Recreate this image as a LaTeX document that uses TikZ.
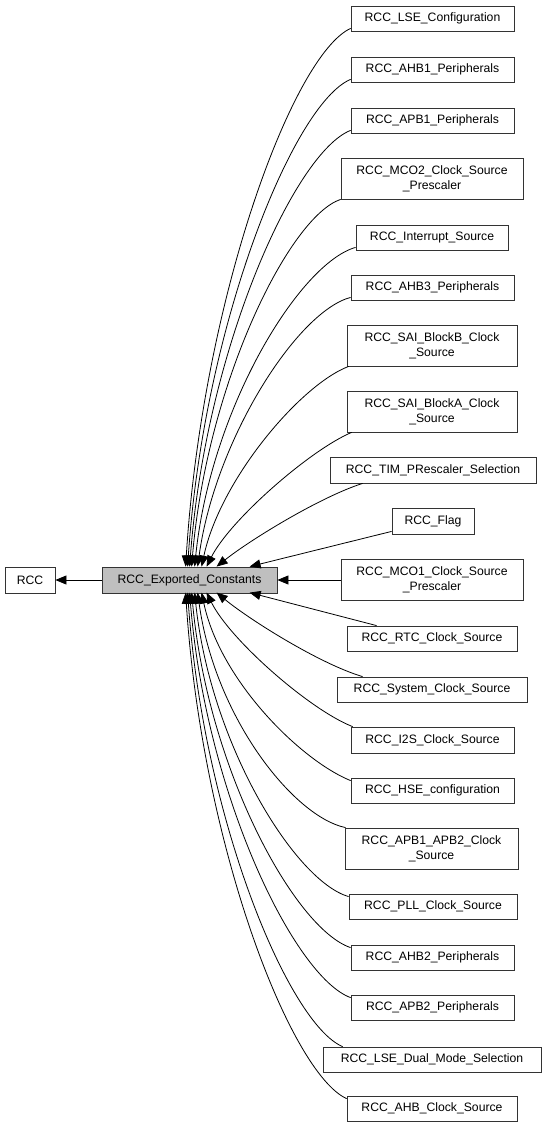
\documentclass[tikz,border=0pt]{standalone}
\usepackage{fontspec}
\setmainfont{Liberation Sans}
\usetikzlibrary{arrows.meta,calc}
\begin{document}
\begin{tikzpicture}[x=1pt,y=-1pt,
  box/.style={draw=black!80, line width=0.8pt, inner sep=0pt, align=center,
    font=\fontsize{12.2}{15}\selectfont, minimum height=25pt},
  tall/.style={minimum height=41pt},
  arr/.style={line width=0.8pt, draw=black, -{Triangle[length=11pt,width=9pt]}}]
\useasboundingbox (0,0) rectangle (545,1129);
% left nodes
\node[box, minimum width=50pt, minimum height=26pt] (rcc) at (30,580) {RCC};
\node[box, minimum width=175pt, minimum height=26pt, fill=black!25] (ec) at (189.5,580) {RCC\_Exported\_Constants};
% right nodes
\node[box, minimum width=163pt] (lse) at (432.5,18.5) {RCC\_LSE\_Configuration};
\node[box, minimum width=163pt] (ahb1) at (432.5,69.5) {RCC\_AHB1\_Peripherals};
\node[box, minimum width=163pt] (apb1) at (432.5,120.5) {RCC\_APB1\_Peripherals};
\node[box, tall, minimum width=182pt] (mco2) at (432,178.5) {RCC\_MCO2\_Clock\_Source\\\_Prescaler};
\node[box, minimum width=152pt] (int) at (432,237.5) {RCC\_Interrupt\_Source};
\node[box, minimum width=163pt] (ahb3) at (432.5,287.5) {RCC\_AHB3\_Peripherals};
\node[box, tall, minimum width=170pt] (saib) at (432,345.5) {RCC\_SAI\_BlockB\_Clock\\\_Source};
\node[box, tall, minimum width=170pt] (saia) at (432,411.5) {RCC\_SAI\_BlockA\_Clock\\\_Source};
\node[box, minimum width=206pt, minimum height=26pt] (tim) at (433,470) {RCC\_TIM\_PRescaler\_Selection};
\node[box, minimum width=82pt, minimum height=26pt] (flag) at (433,521) {RCC\_Flag};
\node[box, tall, minimum width=182pt] (mco1) at (432,580) {RCC\_MCO1\_Clock\_Source\\\_Prescaler};
\node[box, minimum width=170pt] (rtc) at (432,638.5) {RCC\_RTC\_Clock\_Source};
\node[box, minimum width=190pt] (sys) at (432,689.5) {RCC\_System\_Clock\_Source};
\node[box, minimum width=163pt, minimum height=26pt] (i2s) at (432.5,740) {RCC\_I2S\_Clock\_Source};
\node[box, minimum width=163pt] (hse) at (432.5,790.5) {RCC\_HSE\_configuration};
\node[box, tall, minimum width=173pt] (apb12) at (431.5,848.5) {RCC\_APB1\_APB2\_Clock\\\_Source};
\node[box, minimum width=168pt] (pll) at (433,906.5) {RCC\_PLL\_Clock\_Source};
\node[box, minimum width=163pt] (ahb2) at (432.5,957.5) {RCC\_AHB2\_Peripherals};
\node[box, minimum width=163pt] (apb2) at (432.5,1007.5) {RCC\_APB2\_Peripherals};
\node[box, minimum width=218pt] (lsed) at (432,1059.5) {RCC\_LSE\_Dual\_Mode\_Selection};
\node[box, minimum width=170pt] (ahbc) at (432,1108.5) {RCC\_AHB\_Clock\_Source};
% straight edges
\draw[arr] (ec.west) -- (rcc.east);
\draw[arr] (mco1.west) -- (ec.east);
\draw[arr] ($(flag.south west)+(0,-3)$) -- ($(ec.north west)+(148,0)$);
\draw[arr] ($(rtc.north west)+(30,0)$) -- ($(ec.north west)+(148,26)$);
% upper curved edges
\draw[arr] ($(lse.south west)+(0,-3)$) .. controls (293,55) and (202.5,297.5) .. ($(ec.north west)+(84,0)$);
\draw[arr] ($(ahb1.south west)+(0,-3)$) .. controls (294,103) and (204,323) .. ($(ec.north west)+(86,0)$);
\draw[arr] ($(apb1.south west)+(0,-3)$) .. controls (295,152) and (206,348.5) .. ($(ec.north west)+(88,0)$);
\draw[arr] (mco2.south west) .. controls (289.5,216.5) and (207,382.5) .. ($(ec.north west)+(90,0)$);
\draw[arr] ($(int.south west)+(0,-3)$) .. controls (300,263) and (211,407) .. ($(ec.north west)+(93,0)$);
\draw[arr] ($(ahb3.south west)+(0,-3)$) .. controls (297,311.5) and (215,440) .. ($(ec.north west)+(96,0)$);
\draw[arr] ($(saib.south west)+(2,0)$) .. controls (300,385) and (220,480) .. ($(ec.north west)+(100,0)$);
\draw[arr] ($(saia.south west)+(5,0)$) .. controls (310,450) and (230,520) .. ($(ec.north west)+(105,0)$);
\draw[arr] ($(tim.south west)+(33,0)$) .. controls (320,497) and (250,540) .. ($(ec.north west)+(115,0)$);
% lower curved edges
\draw[arr] ($(sys.north west)+(26,0)$) .. controls (320,664) and (250,620) .. ($(ec.north west)+(115,26)$);
\draw[arr] ($(i2s.north west)+(2,0)$) .. controls (310,710) and (230,640) .. ($(ec.north west)+(105,26)$);
\draw[arr] ($(hse.north west)+(0,3)$) .. controls (300,760) and (220,680) .. ($(ec.north west)+(100,26)$);
\draw[arr] ($(apb12.north west)+(1,0)$) .. controls (294,817) and (215,718) .. ($(ec.north west)+(96,26)$);
\draw[arr] ($(pll.north west)+(0,3)$) .. controls (295,881) and (210.5,744.5) .. ($(ec.north west)+(93,26)$);
\draw[arr] ($(ahb2.north west)+(0,3)$) .. controls (295,929) and (208,770) .. ($(ec.north west)+(90,26)$);
\draw[arr] ($(apb2.north west)+(0,3)$) .. controls (294.5,977) and (206,795) .. ($(ec.north west)+(88,26)$);
\draw[arr] ($(lsed.north west)+(20,0)$) .. controls (289,1024) and (203.5,820) .. ($(ec.north west)+(86,26)$);
\draw[arr] ($(ahbc.north west)+(0,3)$) .. controls (290.5,1073) and (202,845.5) .. ($(ec.north west)+(84,26)$);
\end{tikzpicture}
\end{document}
